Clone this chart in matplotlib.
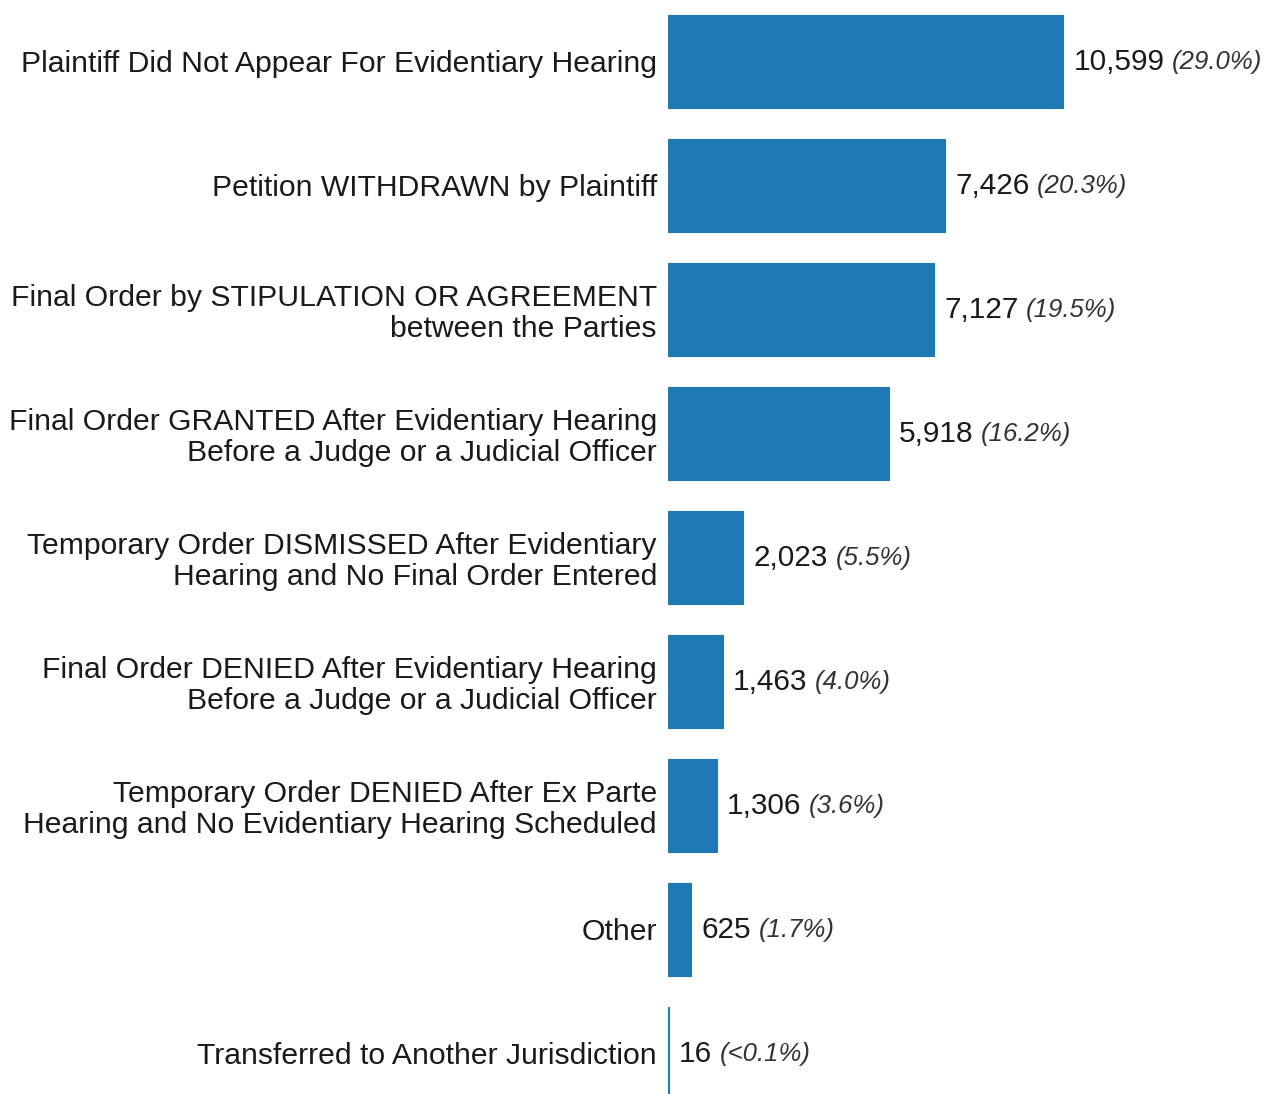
import matplotlib
matplotlib.use("Agg")
import matplotlib.pyplot as plt

categories = [
    "Plaintiff Did Not Appear For Evidentiary Hearing",
    "Petition WITHDRAWN by Plaintiff",
    "Final Order by STIPULATION OR AGREEMENT\nbetween the Parties",
    "Final Order GRANTED After Evidentiary Hearing\nBefore a Judge or a Judicial Officer",
    "Temporary Order DISMISSED After Evidentiary\nHearing and No Final Order Entered",
    "Final Order DENIED After Evidentiary Hearing\nBefore a Judge or a Judicial Officer",
    "Temporary Order DENIED After Ex Parte\nHearing and No Evidentiary Hearing Scheduled",
    "Other",
    "Transferred to Another Jurisdiction",
]
counts = [10599, 7426, 7127, 5918, 2023, 1463, 1306, 625, 16]
pct_labels = ["(29.0%)", "(20.3%)", "(19.5%)", "(16.2%)", "(5.5%)", "(4.0%)", "(3.6%)", "(1.7%)", "(<0.1%)"]

plt.rcParams['font.family'] = ['Liberation Sans', 'DejaVu Sans']
W, H = 1265, 1094
fig = plt.figure(figsize=(W / 100, H / 100), dpi=100)
x0 = 668
ax = fig.add_axes([x0 / W, 0, (W - x0) / W, 1])
color = "#1f77b4"
ypos = list(range(len(categories)))
ax.barh(ypos, counts, height=0.75, color=color, edgecolor=color, linewidth=0.8)
scale = 395 / 10599
ax.set_xlim(0, (W - x0) / scale)
ax.set_ylim((H - 61.5) / 124, -61.5 / 124)
for s in ax.spines.values():
    s.set_visible(False)
ax.set_xticks([])
ax.set_yticks(ypos)
ax.set_yticklabels(categories, fontsize=21.7, color="#1a1a1a", linespacing=1.13)
ax.tick_params(axis='y', length=0, pad=8)

fig.canvas.draw()
renderer = fig.canvas.get_renderer()
for y, c, p in zip(ypos, counts, pct_labels):
    t1 = ax.annotate(f"{c:,}", xy=(c, y), xytext=(7.5, 0), textcoords="offset points",
                     ha="left", va="center", fontsize=21.4, color="#1a1a1a")
    bb = t1.get_window_extent(renderer)
    xd = ax.transData.inverted().transform((bb.x1, 0))[0]
    ax.annotate(p, xy=(xd, y), xytext=(5.5, 0), textcoords="offset points",
                ha="left", va="center", fontsize=18.5, style="italic", color="#333333")

fig.savefig("out.png", dpi=100)
